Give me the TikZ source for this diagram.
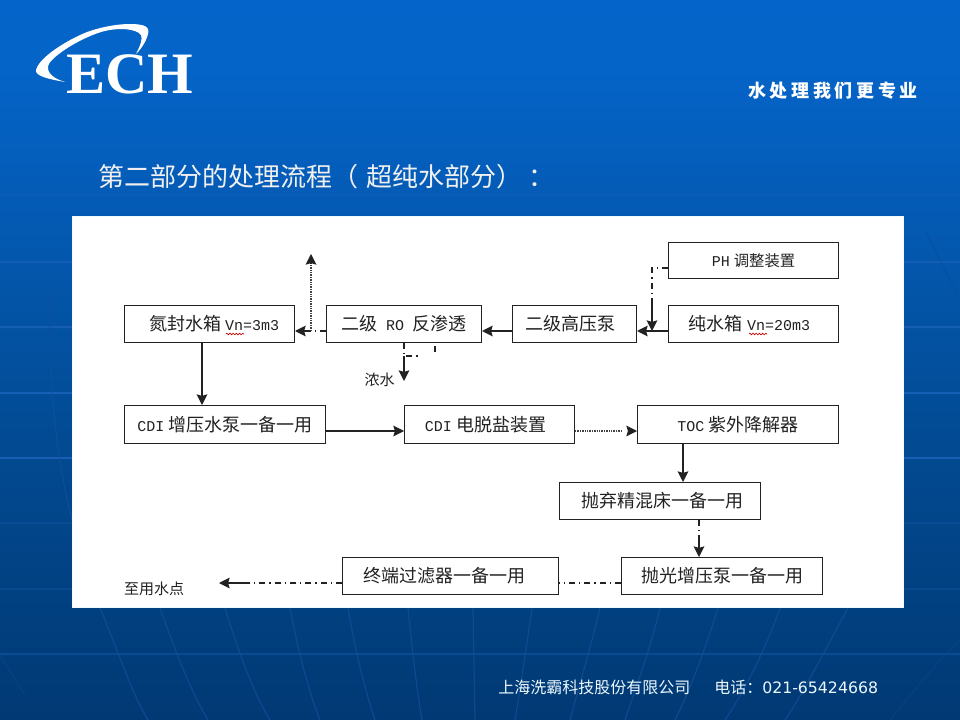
\documentclass[tikz,border=0pt]{standalone}
\usepackage{fontspec}
\usetikzlibrary{arrows.meta,decorations.pathmorphing,calc}
\setmainfont{Noto Sans CJK SC}
\newfontfamily\latf{Liberation Mono}
\newfontfamily\logof{Liberation Serif}[BoldFont={Liberation Serif Bold}]
\newfontfamily\telf{DejaVu Sans}
\newfontfamily\headf[LetterSpace=20]{Noto Sans CJK SC}
\newcommand{\la}[1]{{\latf\fontsize{11.25pt}{13pt}\selectfont #1}}
\definecolor{bgtop}{HTML}{0566CC}
\definecolor{bgmid}{HTML}{024A92}
\definecolor{bgbot}{HTML}{002E60}
\definecolor{gridl}{HTML}{1A62B8}
\definecolor{gridd}{HTML}{0C4A90}
\definecolor{ink}{HTML}{222222}
\pgfdeclareverticalshading{slidebg}{100bp}{
  color(0bp)=(bgbot);
  color(14bp)=(bgbot!96!bgmid);
  color(44bp)=(bgmid);
  color(70bp)=(bgtop!92!bgmid);
  color(85bp)=(bgtop);
  color(100bp)=(bgtop)}
\tikzset{
  box/.style 2 args={draw=ink,line width=0.9pt,fill=white,inner sep=0pt,
    minimum width=#1*0.75pt-0.9pt,minimum height=#2*0.75pt-0.9pt,text=ink,
    font=\fontsize{13.5pt}{16pt}\selectfont},
  flow/.style={draw=ink,line width=0.9pt,-{Stealth[length=8pt,width=8pt,inset=1.2pt]}},
  dashdot/.style={draw=ink,line width=0.8pt,dash pattern=on 4.5pt off 3pt on 1pt off 3pt},
  fine/.style={draw=ink!85,line width=0.9pt,dash pattern=on 1pt off 0.8pt},
  gridline/.style={draw=gridl,line width=1pt},
  fan/.style={draw=gridd!70!gridl,line width=0.9pt,opacity=0.7},
  faint/.style={draw=gridd,line width=0.8pt,opacity=0.45},
  label/.style={inner sep=0pt,text=ink},
  squiggle/.style={draw=red!80!black,line width=0.5pt,decorate,
    decoration={zigzag,amplitude=0.6pt,segment length=2.4pt}}
}
\begin{document}
\begin{tikzpicture}[x=0.75pt,y=-0.75pt]
\useasboundingbox (0,0) rectangle (960,720);
\shade[shading=slidebg] (0,0) rectangle (960,720);
% background grid
\foreach \yy/\oo in {195/0.35,262/0.7,327/0.8,393/0.9,458/0.9,523/0.25,589/0.3,654/0.4}
  \draw[gridline,opacity=\oo] (0,\yy) -- (960,\yy);
\draw[fan] (50,290) .. controls (48,360) and (52,440) .. (72,520);
\draw[fan] (100,608) .. controls (118,650) and (130,690) .. (148,720);
\draw[fan] (160,608) .. controls (175,650) and (190,690) .. (208,720);
\draw[fan] (225,608) .. controls (238,650) and (252,690) .. (270,720);
\draw[fan] (290,608) .. controls (298,650) and (308,690) .. (320,720);
\draw[fan] (348,608) .. controls (355,650) and (365,690) .. (375,720);
\draw[fan] (408,608) .. controls (412,650) and (417,690) .. (422,720);
\draw[fan] (473,608) -- (475,720);
\draw[fan] (532,608) .. controls (526,650) and (520,690) .. (515,720);
\draw[fan] (600,608) .. controls (590,650) and (578,690) .. (570,720);
\draw[fan] (660,608) .. controls (650,650) and (635,690) .. (625,720);
\draw[fan] (718,608) .. controls (705,650) and (690,690) .. (675,720);
\draw[fan] (780,608) .. controls (765,650) and (745,690) .. (725,720);
\draw[fan] (848,608) .. controls (825,650) and (805,690) .. (785,720);
\draw[faint] (0,655) -- (25,695);
\draw[faint] (960,640) .. controls (930,670) and (910,695) .. (890,720);
\draw[faint] (925,230) -- (960,300);
% logo
\fill[white] (65,82) .. controls (48,79) and (35,76) .. (36,70)
  .. controls (40,55) and (75,36) .. (90,31)
  .. controls (105,26) and (120,24) .. (130,24)
  .. controls (145,24) and (150,27) .. (148,34)
  .. controls (146,42) and (141,49) .. (136,54)
  .. controls (140,46) and (143,39) .. (141,35)
  .. controls (136,28) and (115,27) .. (98,33)
  .. controls (75,41) and (50,58) .. (48,66)
  .. controls (47,74) and (55,79) .. (65,82) -- cycle;
\node[inner sep=0pt,text=white,anchor=base west] (logo) at (66,94)
  {\logof\bfseries\fontsize{44pt}{46pt}\selectfont ECH};
\node[inner sep=0pt,text=white] (slogan) at (833,91)
  {\headf\bfseries\fontsize{13.5pt}{16pt}\selectfont 水处理我们更专业};
\node[inner sep=0pt,text=white!94!black,anchor=west] (title) at (98,176.5)
  {\fontsize{19.5pt}{24pt}\selectfont 第二部分的处理流程（\kern6pt 超纯水部分）\kern5pt ：};
% panel
\path[fill=white,draw=cyan!6!white,line width=0.5pt] (72.4,216.4) rectangle (903.6,607.6);
% boxes
\node[box={171}{38}] (n2) at (209.5,324) {\hspace*{7pt}氮封水箱 \la{Vn=3m3}};
\node[box={156}{38}] (ro) at (404,324) {\hspace*{0pt}二级\kern3pt\ \la{RO}\kern3pt\ 反渗透};
\node[box={125}{38}] (pump) at (574.5,324) {二级高压泵\hspace*{6pt}};
\node[box={171}{38}] (pure) at (753.5,324) {纯水箱 \la{Vn=20m3}\hspace*{6pt}};
\node[box={171}{37}] (ph) at (753.5,260.5) {\la{PH} {\fontsize{11.5pt}{14pt}\selectfont 调整装置}};
\node[box={202}{39}] (cdip) at (225,424.5) {\la{CDI} 增压水泵一备一用};
\node[box={171}{39}] (cdie) at (489.5,424.5) {\la{CDI} 电脱盐装置\hspace*{6pt}};
\node[box={202}{39}] (toc) at (738,424.5) {\la{TOC} 紫外降解器};
\node[box={202}{38}] (bed) at (660,501) {\hspace*{3pt}抛弃精混床一备一用};
\node[box={202}{38}] (boost) at (722,576) {抛光增压泵一备一用};
\node[box={217}{38}] (filt) at (450.5,576) {终端过滤器一备一用\hspace*{9pt}};
\node[label,font=\fontsize{11.25pt}{13pt}\selectfont] (conc) at (379.5,380) {浓水};
\node[label,font=\fontsize{11.25pt}{13pt}\selectfont] (use) at (154,589) {至用水点};
% helper coordinates
\coordinate (y331) at (0,331);
\coordinate (y431) at (0,431);
\coordinate (y583) at (0,583);
\coordinate (x202) at (202,0);
\coordinate (x404) at (404,0);
\coordinate (x683) at (683,0);
\coordinate (x699) at (699,0);
\coordinate (roj) at (311,331);
\coordinate (upend) at (311,254);
\coordinate (cdown) at (404,381);
\coordinate (cjoin) at (404,356);
\coordinate (cmid) at (420,356);
\coordinate (stubA) at (435,346);
\coordinate (stubB) at (435,356);
\coordinate (phcorner) at (652,268);
\coordinate (phend) at (652,331);
\coordinate (useend) at (219,583);
\coordinate (usemid) at (250,583);
\coordinate (fineend) at (621,431);
% connectors
\draw[flow] (pure.west |- y331) -- (pump.east |- y331);
\draw[flow] (pump.west |- y331) -- (ro.east |- y331);
\draw[dashdot] (ro.west |- y331) -- (roj);
\draw[flow] (roj) -- (n2.east |- y331);
\draw[fine] (roj) -- ($(upend)+(0,9)$);
\draw[flow] ($(upend)+(0,9)$) -- (upend);
\draw[dashdot] (ph.west |- phcorner) -- (phcorner) -- ($(phcorner)+(0,35)$);
\draw[flow] ($(phcorner)+(0,35)$) -- (phend);
\draw[dashdot] (ro.south -| x404) -- (cjoin) -- (cmid);
\draw[flow] (cjoin) -- (cdown);
\draw[dashdot] (stubA) -- (stubB);
\draw[flow] (n2.south -| x202) -- (cdip.north -| x202);
\draw[flow] (cdip.east |- y431) -- (cdie.west |- y431);
\draw[fine] (cdie.east |- y431) -- (fineend);
\draw[flow,shorten <=7pt] (fineend) -- (toc.west |- y431);
\draw[flow] (toc.south -| x683) -- (bed.north -| x683);
\draw[dashdot] (bed.south -| x699) -- ($(bed.south -| x699)+(0,18)$);
\draw[flow] ($(bed.south -| x699)+(0,18)$) -- (boost.north -| x699);
\draw[dashdot] (boost.west |- y583) -- (filt.east |- y583);
\draw[dashdot] (filt.west |- y583) -- (usemid);
\draw[flow] (usemid) -- (useend);
% spell-check squiggles
\draw[squiggle] (226,334) -- (244,334);
\draw[squiggle] (749,334) -- (767,334);
% footer
\node[inner sep=0pt,text=white!92!cyan,anchor=west] (firm) at (498,687)
  {\fontsize{12pt}{14pt}\selectfont 上海洗霸科技股份有限公司};
\node[inner sep=0pt,text=white!92!cyan,anchor=west] (tel) at (714,687)
  {\fontsize{12pt}{14pt}\selectfont 电话：{\telf\fontsize{11.8pt}{14pt}\selectfont 021-65424668}};
\end{tikzpicture}
\end{document}
